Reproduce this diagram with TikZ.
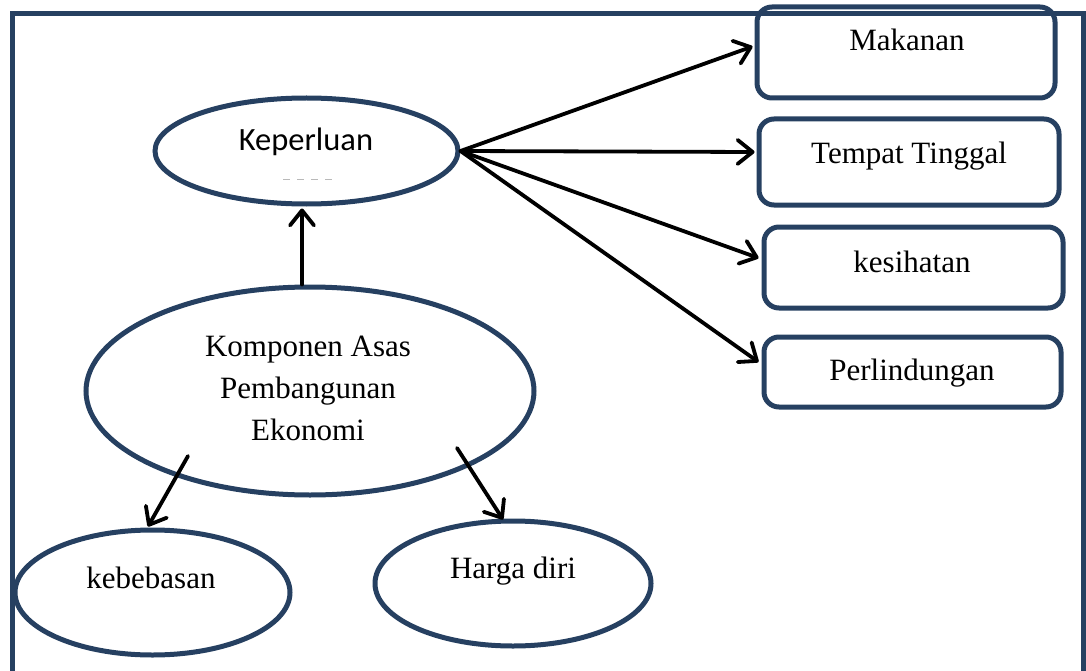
\documentclass[tikz,border=0pt]{standalone}
\usepackage{fontspec}
\setmainfont{Liberation Serif}
\newfontfamily\calib{Carlito}
\usetikzlibrary{shapes.geometric,arrows.meta,calc}
\definecolor{frameblue}{RGB}{38,64,97}
\tikzset{
  ell/.style={draw=frameblue, line width=5pt, ellipse, inner sep=0pt},
  rbox/.style={draw=frameblue, line width=5pt, rounded corners=15pt, rectangle, inner sep=0pt},
  txt/.style={font=\fontsize{31}{42}\selectfont, align=center, inner sep=0pt, anchor=base},
  arr/.style={line width=3.8pt, black, line cap=round,
    -{Straight Barb[length=15pt,width=24pt,line cap=round,line join=round]}},
}
\begin{document}
\begin{tikzpicture}[x=1pt,y=-1pt]
\useasboundingbox (0,0) rectangle (1086,671);
\begin{scope}
\clip (0,0) rectangle (1086,671);
% outer frame
\draw[frameblue, line width=5pt] (12,700) -- (12,14) -- (1083,14) -- (1083,700);
\end{scope}

% ellipses
\node[ell, minimum width=303pt, minimum height=106pt] (kep) at (306.5,151) {};
\node[ell, minimum width=448pt, minimum height=208pt] (kom) at (310,391) {};
\node[ell, minimum width=275pt, minimum height=125pt] (keb) at (152.5,592.5) {};
\node[ell, minimum width=276pt, minimum height=125pt] (har) at (513,583.5) {};

% boxes
\node[rbox, minimum width=298pt, minimum height=91pt] (mak) at (906,52.5) {};
\node[rbox, minimum width=300pt, minimum height=86pt] (temp) at (909,162) {};
\node[rbox, minimum width=299pt, minimum height=81pt] (kes) at (913.5,267.5) {};
\node[rbox, minimum width=297pt, minimum height=70pt] (perl) at (912.5,372) {};

% texts
\node[txt, font=\calib\fontsize{32.5}{38}\selectfont] (tkep) at (306,151) {Keperluan};
\draw[gray!55, line width=1pt, dash pattern=on 7pt off 7pt] ($(kep.center)+(-23.5,29)$) -- ($(kep.center)+(25.5,29)$);
\node[txt] (tkom) at (308,440) {Komponen Asas\\Pembangunan\\Ekonomi};
\node[txt] (tkeb) at (151,588) {kebebasan};
\node[txt] (thar) at (513,578) {Harga diri};
\node[txt] (tmak) at (907,51) {Makanan};
\node[txt] (ttemp) at (909,164) {Tempat Tinggal};
\node[txt] (tkes) at (912,272) {kesihatan};
\node[txt] (tperl) at (912,380) {Perlindungan};

% connectors
\draw[arr] (kep.east) -- ($(mak.west)+(-2,-6)$);
\draw[arr] (kep.east) -- ($(temp.west)+(-2,-10)$);
\draw[arr] (kep.east) -- ($(kes.west)+(-3,-9.5)$);
\draw[arr] (kep.east) -- ($(perl.west)+(-3,-10)$);
\draw[arr] ($(kom.north)+(-8,0)$) -- ($(kep.south)+(-4.5,2)$);
\draw[arr] ($(kom.center)+(-122,65)$) -- ($(keb.north)+(-4.5,-1)$);
\draw[arr] ($(kom.center)+(147,57)$) -- ($(har.north)+(-10,1)$);
\end{tikzpicture}
\end{document}
